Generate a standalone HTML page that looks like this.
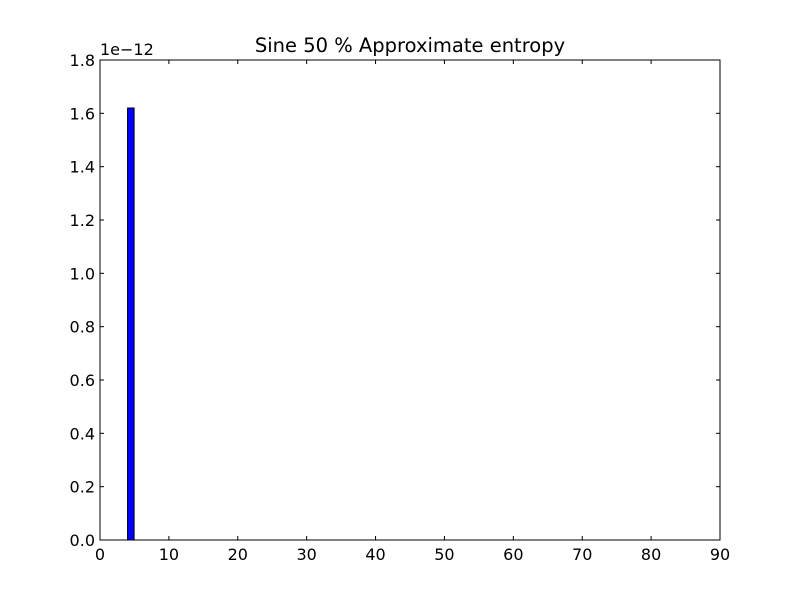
<!DOCTYPE html>
<html><head><meta charset="utf-8"><style>body{margin:0;background:#fff}svg{display:block}text{font-family:"DejaVu Sans","Liberation Sans",sans-serif;font-size:16px;fill:#000}</style></head>
<body>
<svg id="chart" width="800" height="600"></svg>
<script>
const binStarts = [4];
const binWidths = [0.95];
const counts = [1.62];
const xTicks = [0,10,20,30,40,50,60,70,80,90];
const yTicks = [0.0,0.2,0.4,0.6,0.8,1.0,1.2,1.4,1.6,1.8];
const L=100,R=720,T=60,B=540;
const xs=v=>L+(v-0)/(90-0)*(R-L);
const ys=v=>B-(v-0)/(1.8-0)*(B-T);
const svg=document.getElementById('chart');
const NS='http://www.w3.org/2000/svg';
function mk(tag,attrs,parent){const e=document.createElementNS(NS,tag);for(const k in attrs)e.setAttribute(k,attrs[k]);(parent||svg).appendChild(e);return e;}
for(let i=0;i<counts.length;i++){
  const r=mk('rect',{x:xs(binStarts[i]),y:ys(counts[i]),width:xs(binStarts[i]+binWidths[i])-xs(binStarts[i]),height:B-ys(counts[i]),fill:'#0000ff',stroke:'#000','stroke-width':1});
  
  
}
const frame=mk('rect',{x:L,y:T,width:R-L,height:B-T,fill:'none',stroke:'#000','stroke-width':1});


xTicks.forEach(v=>{
  const x=xs(v);
  mk('line',{x1:x,y1:B,x2:x,y2:B-4,stroke:'#000'});
  mk('line',{x1:x,y1:T,x2:x,y2:T+4,stroke:'#000'});
  const t=mk('text',{x:x,y:B+20,'text-anchor':'middle'});t.textContent=v;
  
  
});
yTicks.forEach(v=>{
  const y=ys(v);
  mk('line',{x1:L,y1:y,x2:L+4,y2:y,stroke:'#000'});
  mk('line',{x1:R,y1:y,x2:R-4,y2:y,stroke:'#000'});
  const t=mk('text',{x:L-5,y:y+6,'text-anchor':'end'});t.textContent=v.toFixed(1);
  
  
});
const off=mk('text',{x:L,y:T-5});off.textContent='1e\u221212';


const title=mk('text',{x:(L+R)/2,y:T-8,'text-anchor':'middle',style:'font-size:19.5px'});title.textContent='Sine 50 % Approximate entropy';


</script>
</body></html>
